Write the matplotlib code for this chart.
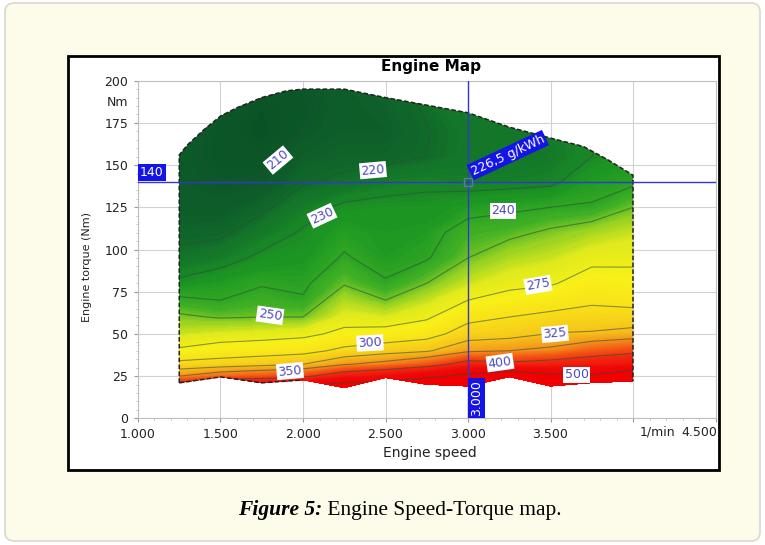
import numpy as np
import matplotlib
matplotlib.use("Agg")
import matplotlib.pyplot as plt
from matplotlib.colors import LinearSegmentedColormap, Normalize
from matplotlib.patches import Polygon, Rectangle, FancyBboxPatch

# BSFC table (g/kWh): rows = torque, columns = speed
speed = [1250, 1500, 1750, 2000, 2250, 2500, 2750, 3000, 3250, 3500, 3750, 4000]
torque = [18, 25, 32, 40, 50, 60, 70, 80, 95, 110, 125, 140, 155, 170, 185, 200]
bsfc = [
    [450, 480, 480, 520, 560, 560, 620, 700, 750, 760, 780, 760],
    [350, 370, 380, 390, 430, 450, 480, 520, 560, 520, 510, 560],
    [308, 312, 318, 325, 348, 360, 380, 420, 410, 420, 430, 440],
    [278, 285, 288, 292, 306, 315, 322, 345, 350, 357, 378, 390],
    [262, 265, 267, 270, 280, 283, 290, 312, 316, 326, 328, 334],
    [252, 249, 250, 250, 267, 264, 272, 293, 300, 306, 309, 310],
    [242, 240, 244, 241, 258, 250, 261, 275, 282, 288, 296, 292],
    [232, 236, 239, 238, 249, 241, 250, 262, 270, 273, 284, 282],
    [223, 226, 232, 234, 241, 236, 239, 250, 258, 262, 270, 271],
    [217, 218, 225, 231, 237, 235, 236, 245, 247, 252, 257, 262],
    [214, 213, 218, 226, 232, 233, 233, 236, 238, 240, 241, 250],
    [212, 210, 211, 219, 222, 226, 228, 226.5, 227, 228, 236, 238],
    [212, 208, 207, 215, 217, 217, 220, 224, 224, 225, 230, 234],
    [213, 208, 205, 210, 215, 215, 219.5, 224, 224, 226, 229, 233],
    [215, 210, 206, 208, 214, 216, 221, 226, 226, 228, 230, 234],
    [218, 213, 209, 210, 215, 218, 224, 229, 229, 231, 232, 236],
]

# full load curve and lower limit of the map
fl_speed = [1250, 1300, 1400, 1500, 1600, 1750, 1900, 2000, 2250, 2500, 2750, 3000, 3250, 3500, 3700, 3850, 4000]
fl_torque = [156, 162, 171, 179, 184, 190, 194, 195, 195, 190, 185.5, 181, 172.5, 166, 161, 153, 144]
ll_speed = [1250, 1500, 1750, 2000, 2250, 2500, 2750, 3000, 3250, 3500, 3750, 4000]
ll_torque = [21, 24.5, 21, 22.7, 18, 24, 20, 19, 24.5, 19, 21, 22]

levels = [210, 220, 230, 240, 250, 275, 300, 325, 350, 400, 500]
cursor_speed = 3000
cursor_torque = 140
cursor_bsfc = "226,5 g/kWh"

cm_vals = [205, 215, 225, 235, 245, 255, 265, 280, 300, 325, 350, 380, 410, 460, 520]
cm_cols = ['#0a5226', '#0e5f2a', '#147a28', '#1f9a22', '#40b025', '#98d222', '#e0ea1c',
           '#f8f018', '#f8e018', '#f6c41a', '#f4981a', '#f25a14', '#f02a10', '#f00808', '#f00000']
vmin, vmax = cm_vals[0], cm_vals[-1]
cmap = LinearSegmentedColormap.from_list(
    "bsfc", [((v - vmin) / (vmax - vmin), c) for v, c in zip(cm_vals, cm_cols)])
norm = Normalize(vmin, vmax, clip=True)

W, H = 765, 545
fig = plt.figure(figsize=(W / 100, H / 100), dpi=100)
fig.patch.set_facecolor('white')

# background in pixel units
bg = fig.add_axes([0, 0, 1, 1], zorder=0)
bg.set_xlim(0, W)
bg.set_ylim(H, 0)
bg.axis('off')
bg.add_patch(FancyBboxPatch((5, 3), 755, 538, boxstyle='round,pad=0,rounding_size=9',
                            fc='#fdfbea', ec='#dcd9cc', lw=1.2))
bg.add_patch(Rectangle((68, 56), 651, 414, fc='white', ec='black', lw=2))

# main plot
ax = fig.add_axes([138 / W, 1 - 418.3 / H, 577.5 / W, 337.6 / H], zorder=1)
ax.set_xlim(1000, 4500)
ax.set_ylim(0, 200)
ax.patch.set_alpha(0)

xt = list(range(1000, 4501, 500))
ax.set_xticks(xt)
ax.set_xticklabels([f"{v:,}".replace(",", ".") if v < 4000 else "" for v in xt])
ax.set_yticks(range(0, 201, 25))
ax.set_xticks(np.arange(1000, 4501, 100), minor=True)
ax.set_yticks(np.arange(0, 201, 5), minor=True)
ax.tick_params(which='major', length=3, pad=4, color='#999999', labelsize=9, labelcolor='#222222')
ax.tick_params(which='minor', length=1.5, color='#bbbbbb')
ax.grid(True, which='major', color='#d2d2d2', lw=0.8)
ax.set_axisbelow(True)
for s in ax.spines.values():
    s.set_color('#c0c0c0')

S, T = np.meshgrid(speed, torque)
Z = np.array(bsfc)

outline = list(zip(fl_speed, fl_torque)) + list(zip(ll_speed[::-1], ll_torque[::-1]))
clip = Polygon(outline, closed=True, fc='none', ec='none', transform=ax.transData)
ax.add_patch(clip)

cf = ax.contourf(S, T, Z, levels=np.arange(200, 801, 1), cmap=cmap, norm=norm,
                 extend='both', zorder=2)
cf.set_edgecolor('face')
cf.set_linewidth(0.4)
cf.set_clip_path(clip)
cl = ax.contour(S, T, Z, levels=levels, colors='#2b4b3f', linewidths=0.8, alpha=0.55, zorder=3)
cl.set_clip_path(clip)

# dashed map boundary
ax.plot([ll_speed[0]] + fl_speed + [ll_speed[-1]], [ll_torque[0]] + fl_torque + [ll_torque[-1]],
        color='#222222', lw=1.1, ls=(0, (3, 1.5)), zorder=4)
ax.plot(ll_speed[:4], ll_torque[:4], color='#222222', lw=1.1, ls=(0, (3, 1.5)), zorder=4)

# contour labels
label_pos = [(210, 1848, 153, 40), (220, 2424, 147, 5), (230, 2115, 120, 25),
             (240, 3212, 123, 0), (250, 1800, 61, -8), (275, 3424, 79, 10),
             (300, 2406, 44.6, 3), (325, 3527, 50, 5), (350, 1921, 28, 5),
             (400, 3194, 33, 8), (500, 3660, 25.7, 0)]
for lev, x, y, rot in label_pos:
    ax.text(x, y, str(lev), rotation=rot, ha='center', va='center', fontsize=9,
            color='#4b4bc4', zorder=7,
            bbox=dict(boxstyle='square,pad=0.12', fc='white', ec='none'))

# cursor
blue = '#3535d0'
ax.axvline(cursor_speed, color=blue, lw=1, zorder=5)
ax.axhline(cursor_torque, color=blue, lw=1, zorder=5)
ax.plot(cursor_speed, cursor_torque, marker='s', ms=6, mfc='none', mec='#5a78a8', zorder=6)
box = dict(boxstyle='square,pad=0.15', fc='#1414e6', ec='none')
ax.text(1012, cursor_torque + 1.8, str(cursor_torque), color='white', fontsize=9,
        ha='left', va='bottom', zorder=7, bbox=box)
ax.text(cursor_speed + 12, 1.5, f"{cursor_speed:,}".replace(",", "."), rotation=90,
        color='white', fontsize=9, ha='left', va='bottom', zorder=7, bbox=box)
ax.text(cursor_speed + 40, cursor_torque + 2.5, cursor_bsfc, rotation=25, rotation_mode='anchor',
        color='white', fontsize=9, ha='left', va='bottom', zorder=7, bbox=box)

# texts around the plot
bg.text(431, 66, "Engine Map", ha='center', va='center', fontsize=11, fontweight='bold')
bg.text(430, 453, "Engine speed", ha='center', va='center', fontsize=10, color='#222222')
bg.text(87, 267, "Engine torque (Nm)", rotation=90, ha='center', va='center', fontsize=8,
        color='#222222')
bg.text(128, 102, "Nm", ha='right', va='center', fontsize=9, color='#222222')
bg.text(657, 432, "1/min", ha='center', va='center', fontsize=9, color='#222222')
bg.text(717, 432, "4.500", ha='right', va='center', fontsize=9, color='#222222')

# caption
cap_font = dict(family='Liberation Serif', fontsize=15.5, va='center')
t1 = bg.text(0, 510, "Figure 5:", fontweight='bold', style='italic', ha='left', **cap_font)
t2 = bg.text(0, 510, " Engine Speed-Torque map.", ha='left', **cap_font)
fig.canvas.draw()
r = fig.canvas.get_renderer()
w1 = t1.get_window_extent(r).width
w2 = t2.get_window_extent(r).width
x0 = 400 - (w1 + w2) / 2
t1.set_x(x0)
t2.set_x(x0 + w1)

fig.savefig("out.png", dpi=100, facecolor=fig.get_facecolor())
